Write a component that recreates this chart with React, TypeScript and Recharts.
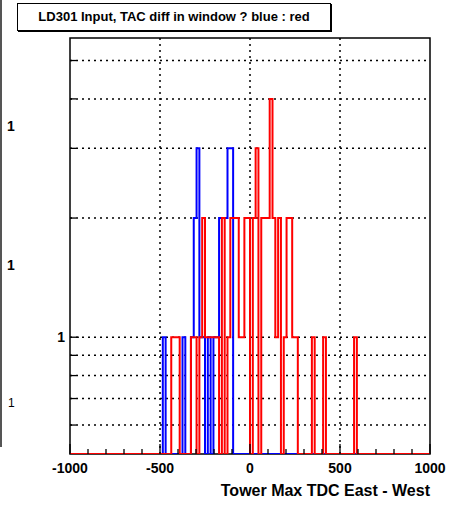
import { LineChart, Line, XAxis, YAxis, CartesianGrid, ReferenceArea } from 'recharts';

// 128 bins from -1000 to 1000
const binLow = -1000;
const binWidth = 15.625;

const blueCounts = [
  0, 0, 0, 0, 0, 0, 0, 0, 0, 0, 0, 0, 0, 0, 0, 0,
  0, 0, 0, 0, 0, 0, 0, 0, 0, 0, 0, 0, 0, 0, 0, 0,
  0, 1, 0, 0, 0, 0, 0, 0, 1, 0, 0, 1, 2, 3, 1, 1,
  0, 1, 0, 1, 1, 2, 2, 2, 3, 3, 0, 0, 0, 0, 0, 0,
  0, 0, 0, 0, 0, 0, 0, 0, 0, 0, 0, 0, 0, 0, 0, 0,
  0, 0, 0, 0, 0, 0, 0, 0, 0, 0, 0, 0, 0, 0, 0, 0,
  0, 0, 0, 0, 0, 0, 0, 0, 0, 0, 0, 0, 0, 0, 0, 0,
  0, 0, 0, 0, 0, 0, 0, 0, 0, 0, 0, 0, 0, 0, 0, 0,
];

const redCounts = [
  0, 0, 0, 0, 0, 0, 0, 0, 0, 0, 0, 0, 0, 0, 0, 0,
  0, 0, 0, 0, 0, 0, 0, 0, 0, 0, 0, 0, 0, 0, 0, 0,
  0, 0, 0, 0, 1, 1, 1, 0, 0, 0, 0, 1, 1, 0, 1, 2,
  1, 1, 1, 1, 1, 0, 2, 0, 1, 2, 2, 2, 1, 1, 2, 2,
  0, 2, 3, 0, 2, 2, 2, 4, 2, 1, 2, 0, 1, 2, 2, 1,
  1, 0, 0, 0, 0, 0, 1, 0, 0, 0, 1, 0, 0, 0, 0, 0,
  0, 0, 0, 0, 0, 1, 0, 0, 0, 0, 0, 0, 0, 0, 0, 0,
  0, 0, 0, 0, 0, 0, 0, 0, 0, 0, 0, 0, 0, 0, 0, 0,
];

const xTicks = [-1000, -900, -800, -700, -600, -500, -400, -300, -200, -100, 0, 100, 200, 300, 400, 500, 600, 700, 800, 900, 1000];
const xLabels = [-1000, -500, 0, 500, 1000];
const xGrid = [-500, 0, 500];
const yTicks = [0.6, 0.7, 0.8, 0.9, 1, 2, 3, 4, 5];
const yLabels = [1];
const yMin = 0.507;
const yMax = 5.7;

// zero bins sit on the bottom of the log frame, like ROOT does
const onLog = (v: number) => (v > 0 ? v : yMin);

const data = blueCounts.map((b, i) => ({
  x: binLow + i * binWidth,
  blue: onLog(b),
  red: onLog(redCounts[i]),
}));
data.push({
  x: binLow + blueCounts.length * binWidth,
  blue: onLog(blueCounts[blueCounts.length - 1]),
  red: onLog(redCounts[redCounts.length - 1]),
});

const font = '"Liberation Sans", Arial, sans-serif';

function XTick(props: any) {
  const { x, y, payload } = props;
  const major = xLabels.includes(payload.value);
  return (
    <g>
      <line x1={x} x2={x} y1={y} y2={y - (major ? 10 : 5)} stroke="#000" strokeWidth={1.3} />
      {major && (
        <text x={x} y={y + 19} textAnchor="middle" fontFamily={font} fontWeight="bold" fontSize={14} fill="#000">
          {payload.value}
        </text>
      )}
    </g>
  );
}

function YTick(props: any) {
  const { x, y, payload } = props;
  const major = yLabels.includes(payload.value);
  return (
    <g>
      <line x1={x} x2={x + (major ? 9 : 6)} y1={y} y2={y} stroke="#000" strokeWidth={1.3} />
      {major && (
        <text x={x - 5} y={y + 5} textAnchor="end" fontFamily={font} fontWeight="bold" fontSize={14} fill="#000">
          {payload.value}
        </text>
      )}
    </g>
  );
}

export default function App() {
  return (
    <div style={{ position: 'absolute', left: 0, top: 0, width: 455, height: 507, background: '#fff', fontFamily: font }}>
      <div style={{ position: 'absolute', left: 0, top: 0, width: 1.5, height: 447, background: '#555' }} />
      <div style={{ position: 'absolute', left: 7, top: 118, fontSize: 14, fontWeight: 'bold' }}>1</div>
      <div style={{ position: 'absolute', left: 7, top: 257, fontSize: 14, fontWeight: 'bold' }}>1</div>
      <div style={{ position: 'absolute', left: 8, top: 396, fontSize: 12 }}>1</div>

      <LineChart width={455} height={507} data={data} margin={{ top: 38, right: 25, bottom: 0, left: 0 }}>
        <CartesianGrid
          horizontalValues={yTicks}
          verticalValues={xGrid}
          stroke="#000"
          strokeWidth={1.5}
          strokeDasharray="2 4"
        />
        <ReferenceArea x1={-1000} x2={1000} y1={yMin} y2={yMax} fill="none" stroke="#000" strokeWidth={1.5} ifOverflow="visible" />
        <XAxis
          dataKey="x"
          type="number"
          domain={[-1000, 1000]}
          ticks={xTicks}
          interval={0}
          height={53}
          tickSize={0}
          tickMargin={0}
          tickLine={false}
          axisLine={false}
          tick={<XTick />}
        />
        <YAxis
          type="number"
          scale="log"
          domain={[yMin, yMax]}
          allowDataOverflow
          ticks={yTicks}
          interval={0}
          width={70}
          tickSize={0}
          tickMargin={0}
          tickLine={false}
          axisLine={false}
          tick={<YTick />}
        />
        <Line type="stepAfter" dataKey="blue" stroke="#0000ff" strokeWidth={2} dot={false} isAnimationActive={false} />
        <Line type="stepAfter" dataKey="red" stroke="#ff0000" strokeWidth={2} dot={false} isAnimationActive={false} />
      </LineChart>

      <div
        style={{
          position: 'absolute',
          left: 17,
          top: 3,
          width: 312,
          height: 26,
          border: '1.5px solid #000',
          boxShadow: '1px 1px 0 #000',
          background: '#fff',
          fontSize: 13,
          fontWeight: 'bold',
          lineHeight: '26px',
          textAlign: 'center',
        }}
      >
        LD301 Input, TAC diff in window ? blue : red
      </div>
      <div style={{ position: 'absolute', right: 25, top: 482, fontSize: 16, fontWeight: 'bold', whiteSpace: 'nowrap' }}>
        Tower Max TDC East - West
      </div>
    </div>
  );
}
